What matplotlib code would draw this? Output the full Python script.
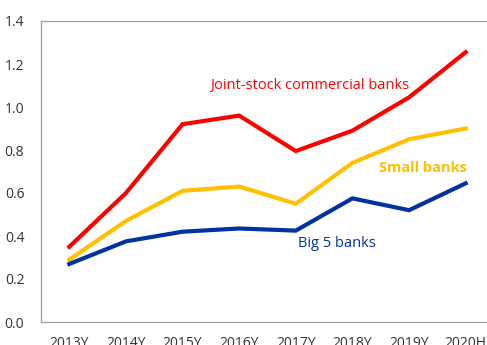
import numpy as np
import matplotlib.pyplot as plt

plt.rcParams['font.family'] = ['Open Sans', 'DejaVu Sans']

years = ["2013Y", "2014Y", "2015Y", "2016Y", "2017Y", "2018Y", "2019Y", "2020H"]
joint_stock = [0.35, 0.60, 0.92, 0.96, 0.795, 0.89, 1.045, 1.255]
small_banks = [0.29, 0.47, 0.61, 0.63, 0.55, 0.74, 0.85, 0.90]
big5 = [0.27, 0.375, 0.42, 0.435, 0.425, 0.575, 0.52, 0.645]

fig = plt.figure(figsize=(4.87, 3.45), dpi=100)
# axes run a bit past the right edge, like the source image
ax = fig.add_axes([41 / 487, 23 / 345, 453 / 487, 301 / 345])

x = np.arange(len(years))
ax.plot(x, joint_stock, color="#FF0000", lw=3, solid_joinstyle="miter")
ax.plot(x, small_banks, color="#FFC000", lw=3, solid_joinstyle="miter")
ax.plot(x, big5, color="#0033A0", lw=3, solid_joinstyle="miter")

ax.text(4.25, 1.10, "Joint-stock commercial banks", color="#FF0000", fontsize=10.5,
        ha="center", va="center")
ax.text(6.25, 0.715, "Small banks", color="#FFC000", fontsize=10.5, fontweight="bold",
        ha="center", va="center")
ax.text(4.72, 0.367, "Big 5 banks", color="#0033A0", fontsize=10.5,
        ha="center", va="center")

ax.set_xlim(-0.5, 7.5)
ax.set_ylim(0, 1.4)
ax.set_yticks(np.arange(0, 1.41, 0.2))
ax.set_yticklabels([f"{v:.1f}" for v in np.arange(0, 1.41, 0.2)])
ax.set_xticks(x)
ax.set_xticklabels(years)
ax.tick_params(length=0, labelsize=10, colors="#333333", pad=12)
ax.tick_params(axis="x", pad=10)
for s in ax.spines.values():
    s.set_color("#A6A6A6")
    s.set_linewidth(1)

fig.savefig("out.png", dpi=100)
